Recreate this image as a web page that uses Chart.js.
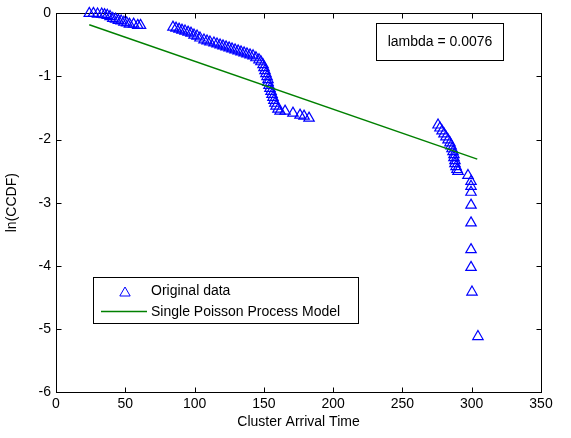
<!DOCTYPE html>
<html>
<head>
<meta charset="utf-8">
<script src="https://cdn.jsdelivr.net/npm/chart.js@4/dist/chart.umd.min.js"></script>
<style>
html, body { margin: 0; padding: 0; background: #fff; }
</style>
</head>
<body>
<canvas id="chart" width="571" height="438"></canvas>
<script>
// Data
const arrivalTimes = [
	24, 27, 30, 33, 35, 37, 39, 41, 43, 45, 47, 49, 51, 53, 56, 59, 61,
	84.4, 86.6, 88.8, 90.9, 93.1, 95.3, 97.4, 99.6, 101.8, 103.9, 106.8, 109, 111.1, 114, 116.2,
	118.4, 120.5, 122.7, 124.9, 127, 129.2, 131.4, 133.5, 135.7, 137.8, 140, 142.2, 144.3, 146.5,
	147.9, 149.4, 150.1, 150.8, 151.5, 152.3, 153, 153, 153.7, 154.4, 155.2, 155.9, 156.6, 157.3,
	158, 158.8, 160.2, 161.7, 165.3, 171, 176.1, 179, 182.6,
	275.7, 277.1, 278.6, 280, 281.4, 282.9, 284.3, 285.1, 285.8, 286.5, 287.2, 287.2, 287.9, 287.9,
	288.7, 289.4, 290.1, 297.3, 299.5, 299.5, 299.5, 299.5, 299.5, 299.5, 299.5, 300.2, 304.5
];
const lnCcdf = [
	0, 0, -0.01, -0.01, -0.02, -0.03, -0.05, -0.08, -0.09, -0.11, -0.12, -0.14, -0.15, -0.17, -0.17, -0.19, -0.19,
	-0.218, -0.233, -0.249, -0.265, -0.28, -0.296, -0.312, -0.343, -0.359, -0.39, -0.421, -0.437, -0.453, -0.468, -0.484,
	-0.5, -0.515, -0.531, -0.547, -0.562, -0.578, -0.594, -0.609, -0.625, -0.641, -0.657, -0.672, -0.703, -0.735,
	-0.766, -0.813, -0.86, -0.907, -0.954, -1.001, -1.048, -1.095, -1.142, -1.189, -1.236, -1.283, -1.33, -1.377,
	-1.424, -1.471, -1.518, -1.549, -1.549, -1.581, -1.612, -1.628, -1.659,
	-1.769, -1.816, -1.863, -1.91, -1.957, -2.004, -2.051, -2.098, -2.145, -2.192, -2.239, -2.286, -2.333, -2.38,
	-2.427, -2.474, -2.505, -2.568, -2.662, -2.74, -2.834, -3.038, -3.32, -3.743, -4.025, -4.416, -5.121
];
// Fitted single Poisson process model (endpoints of the line)
const modelTimes = [24, 304];
const modelValues = [-0.18, -2.31];

const xTicks = [0, 50, 100, 150, 200, 250, 300, 350];
const yTicks = [0, -1, -2, -3, -4, -5, -6];
const lambdaText = 'lambda = 0.0076';

const FONT = "'Liberation Sans', Arial, sans-serif";
Chart.defaults.font.family = FONT;
Chart.defaults.font.size = 14;
Chart.defaults.color = '#000';

// Box with inward ticks, legend and lambda annotation (MATLAB look)
const matlabFrame = {
	id: 'matlabFrame',
	beforeDatasetsDraw(chart) {
		const { ctx, chartArea: a, scales } = chart;
		const L = Math.round(a.left) + 0.5, R = Math.round(a.right) + 0.5;
		const T = Math.round(a.top) + 0.5, B = Math.round(a.bottom) + 0.5;
		ctx.save();
		ctx.strokeStyle = '#000';
		ctx.lineWidth = 1;
		ctx.strokeRect(L, T, R - L, B - T);
		ctx.beginPath();
		xTicks.forEach(v => {
			const px = Math.round(scales.x.getPixelForValue(v)) + 0.5;
			ctx.moveTo(px, B); ctx.lineTo(px, B - 5);
			ctx.moveTo(px, T); ctx.lineTo(px, T + 5);
		});
		yTicks.forEach(v => {
			const py = Math.round(scales.y.getPixelForValue(v)) + 0.5;
			ctx.moveTo(L, py); ctx.lineTo(L + 5, py);
			ctx.moveTo(R, py); ctx.lineTo(R - 5, py);
		});
		ctx.stroke();
		ctx.restore();
	},
	afterDraw(chart) {
		const { ctx } = chart;
		const ds = chart.data.datasets;
		ctx.save();
		ctx.font = '14px ' + FONT;
		ctx.textBaseline = 'middle';

		// legend
		ctx.fillStyle = '#fff';
		ctx.fillRect(93.5, 277.5, 265, 46);
		ctx.strokeStyle = '#000';
		ctx.lineWidth = 1;
		ctx.strokeRect(93.5, 277.5, 265, 46);
		ctx.fillStyle = '#000';
		ctx.fillText(ds[1].label, 151, 291);
		ctx.fillText(ds[0].label, 151, 312);
		ctx.fillStyle = 'rgba(0,0,0,0)';
		ctx.strokeStyle = ds[1].borderColor;
		Chart.helpers.drawPoint(ctx, {
			pointStyle: 'triangle', radius: 6, borderWidth: 1.2, rotation: 0
		}, 125, 293);
		ctx.beginPath();
		ctx.lineWidth = 1.4;
		ctx.strokeStyle = ds[0].borderColor;
		ctx.moveTo(101, 311.5); ctx.lineTo(147, 311.5);
		ctx.stroke();

		// lambda box
		ctx.lineWidth = 1;
		ctx.fillStyle = '#fff';
		ctx.fillRect(376.5, 23.5, 127, 37);
		ctx.strokeStyle = '#000';
		ctx.strokeRect(376.5, 23.5, 127, 37);
		ctx.fillStyle = '#000';
		ctx.textAlign = 'center';
		ctx.fillText(lambdaText, 440, 42);
		ctx.restore();
	}
};

new Chart(document.getElementById('chart'), {
	type: 'scatter',
	data: {
		datasets: [
			{
				label: 'Single Poisson Process Model',
				data: modelTimes.map((t, i) => ({ x: t, y: modelValues[i] })),
				showLine: true,
				borderColor: '#008000',
				borderWidth: 1.4,
				pointRadius: 0,
				order: 0
			},
			{
				label: 'Original data',
				data: arrivalTimes.map((t, i) => ({ x: t, y: lnCcdf[i] })),
				pointStyle: 'triangle',
				pointRadius: 6,
				pointBorderWidth: 1.2,
				borderColor: '#0000ff',
				backgroundColor: 'rgba(0,0,0,0)',
				clip: false,
				order: 1
			}
		]
	},
	options: {
		responsive: false,
		animation: false,
		events: [],
		layout: { padding: { left: 0, right: 30, top: 9, bottom: 0 } },
		plugins: { legend: { display: false }, tooltip: { enabled: false } },
		scales: {
			x: {
				type: 'linear',
				min: 0, max: 350,
				grid: { display: false, drawTicks: false },
				border: { display: false },
				ticks: { padding: 4, maxRotation: 0 },
				afterBuildTicks: s => { s.ticks = xTicks.map(v => ({ value: v })); },
				afterFit: s => { s.height = 46; },
				title: { display: true, text: 'Cluster Arrival Time', padding: { top: 0, bottom: 7 } }
			},
			y: {
				type: 'linear',
				min: -6, max: 0,
				grid: { display: false, drawTicks: false },
				border: { display: false },
				ticks: { padding: 5 },
				afterBuildTicks: s => { s.ticks = yTicks.map(v => ({ value: v })); },
				afterFit: s => { s.width = 56; },
				title: { display: true, text: 'ln(CCDF)', padding: { top: 4, bottom: 0 } }
			}
		}
	},
	plugins: [matlabFrame]
});
</script>
</body>
</html>
